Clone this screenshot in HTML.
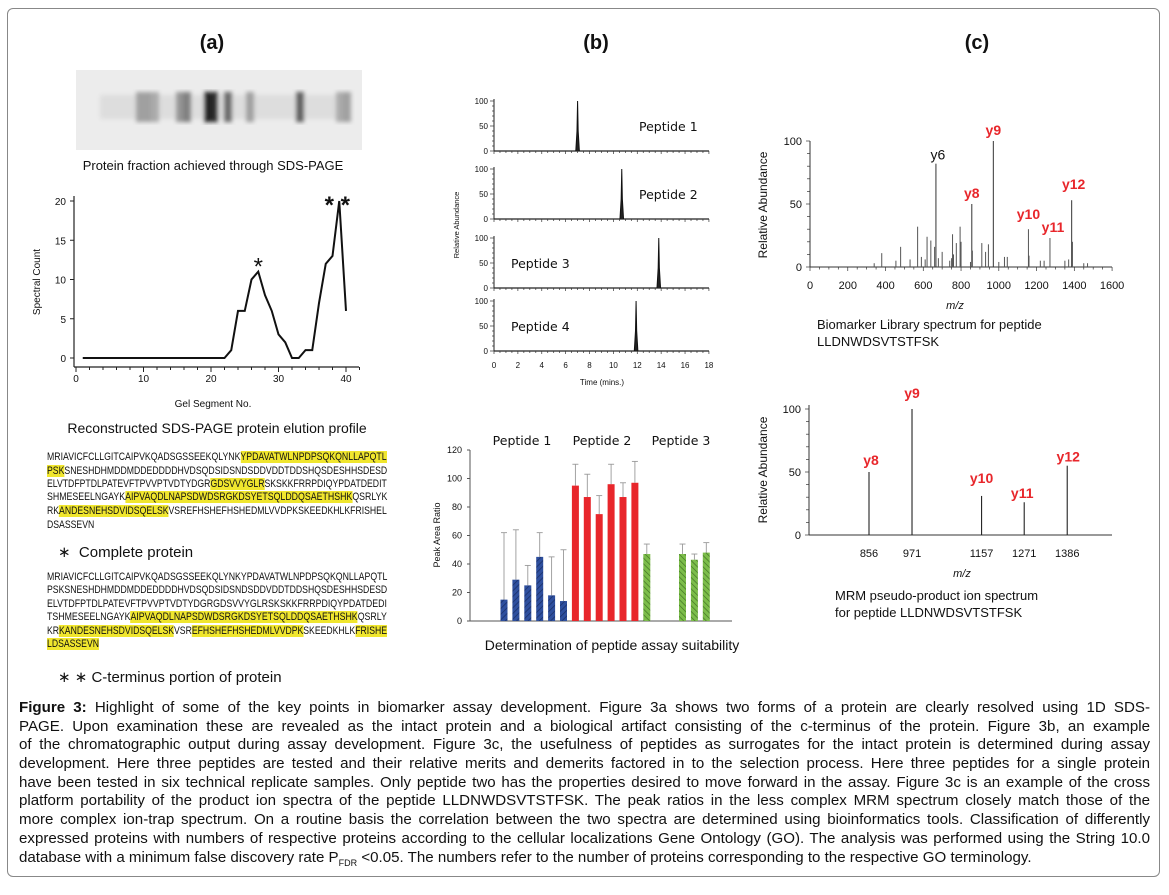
<!DOCTYPE html>
<html><head><meta charset="utf-8"><style>
body{margin:0;background:#fff;}
#root{position:relative;width:1169px;height:895px;overflow:hidden;background:#fff;font-family:"Liberation Sans",Arial,sans-serif;}
.frame{position:absolute;left:7px;top:8px;width:1153px;height:869px;border:1px solid #888;border-radius:6px;box-sizing:border-box;}
.seq{position:absolute;left:47px;font-size:11px;line-height:13px;white-space:nowrap;transform-origin:0 50%;color:#111;}
.hl{background:#f0e62e;}
.cap{position:absolute;left:19px;top:699px;width:1131px;font-size:15.1px;line-height:18.7px;color:#111;}
.cl{text-align:justify;text-align-last:justify;white-space:nowrap;height:18.7px;}
.lbl{position:absolute;font-size:14px;color:#111;white-space:nowrap;}
</style></head><body>
<div id="root">
<div class="frame"></div>
<svg id="svg" width="1169" height="895" style="position:absolute;left:0;top:0">
<defs>
<pattern id="hb" width="4" height="4" patternUnits="userSpaceOnUse" patternTransform="rotate(45)"><rect width="4" height="4" fill="#2e4f9e"/><line x1="0" y1="0" x2="0" y2="4" stroke="#1a2f66" stroke-width="1.5"/></pattern>
<pattern id="hg" width="4" height="4" patternUnits="userSpaceOnUse" patternTransform="rotate(-45)"><rect width="4" height="4" fill="#7cbd4a"/><line x1="0" y1="0" x2="0" y2="4" stroke="#3d6e22" stroke-width="1.3"/></pattern>
<filter id="blur"><feGaussianBlur stdDeviation="2.2"/></filter>
</defs>
<g font-family="Liberation Sans, Arial, sans-serif" font-weight="bold" font-size="20" text-anchor="middle" fill="#111">
<text x="212" y="49">(a)</text>
<text x="596" y="49">(b)</text>
<text x="977" y="49">(c)</text>
</g>
<g id="gel">
<rect x="76" y="70" width="286" height="80" fill="#ececec"/>
<g filter="url(#blur)" id="gelbands"></g>
</g>
<text x="213" y="170" font-size="13" text-anchor="middle" font-family="Liberation Sans, DejaVu Sans, sans-serif" fill="#111">Protein fraction achieved through SDS-PAGE</text>
<g id="chartA"></g>
<text x="217" y="433" font-size="14" text-anchor="middle" fill="#111">Reconstructed SDS-PAGE protein elution profile</text>
<g id="chartB"></g>
<g id="chartBar"></g>
<text x="612" y="650" font-size="14" text-anchor="middle" fill="#111">Determination of peptide assay suitability</text>
<g id="chartC1"></g>
<text x="817" y="329" font-size="13" fill="#111">Biomarker Library spectrum for peptide</text>
<text x="817" y="346" font-size="13" fill="#111">LLDNWDSVTSTFSK</text>
<g id="chartC2"></g>
<text x="835" y="600" font-size="13" fill="#111">MRM  pseudo-product ion spectrum</text>
<text x="835" y="617" font-size="13" fill="#111">for peptide LLDNWDSVTSTFSK</text>
</svg>

<div class="seq" style="top:451px">MRIAVICFCLLGITCAIPVKQADSGSSEEKQLYNK<span class="hl">YPDAVATWLNPDPSQKQNLLAPQTL</span></div>
<div class="seq" style="top:465px"><span class="hl">PSK</span>SNESHDHMDDMDDEDDDDHVDSQDSIDSNDSDDVDDTDDSHQSDESHHSDESD</div>
<div class="seq" style="top:478px">ELVTDFPTDLPATEVFTPVVPTVDTYDGR<span class="hl">GDSVVYGLR</span>SKSKKFRRPDIQYPDATDEDIT</div>
<div class="seq" style="top:491px">SHMESEELNGAYK<span class="hl">AIPVAQDLNAPSDWDSRGKDSYETSQLDDQSAETHSHK</span>QSRLYK</div>
<div class="seq" style="top:505px">RK<span class="hl">ANDESNEHSDVIDSQELSK</span>VSREFHSHEFHSHEDMLVVDPKSKEEDKHLKFRISHEL</div>
<div class="seq last" style="top:519px">DSASSEVN</div>
<div class="lbl" style="left:58px;top:543px;font-size:15px">∗ &nbsp;Complete protein</div>

<div class="seq" style="top:571px">MRIAVICFCLLGITCAIPVKQADSGSSEEKQLYNKYPDAVATWLNPDPSQKQNLLAPQTL</div>
<div class="seq" style="top:584px">PSKSNESHDHMDDMDDEDDDDHVDSQDSIDSNDSDDVDDTDDSHQSDESHHSDESD</div>
<div class="seq" style="top:598px">ELVTDFPTDLPATEVFTPVVPTVDTYDGRGDSVVYGLRSKSKKFRRPDIQYPDATDEDI</div>
<div class="seq" style="top:611px">TSHMESEELNGAYK<span class="hl">AIPVAQDLNAPSDWDSRGKDSYETSQLDDQSAETHSHK</span>QSRLY</div>
<div class="seq" style="top:625px">KR<span class="hl">KANDESNEHSDVIDSQELSK</span>VSR<span class="hl">EFHSHEFHSHEDMLVVDPK</span>SKEEDKHLK<span class="hl">FRISHE</span></div>
<div class="seq last" style="top:638px"><span class="hl">LDSASSEVN</span></div>
<div class="lbl" style="left:58px;top:668px;font-size:15px">∗ ∗ C-terminus portion of protein</div>

<div class="cap">
<div class="cl"><b>Figure 3:</b> Highlight of some of the key points in biomarker assay development. Figure 3a shows two forms of a protein are clearly resolved using 1D SDS-</div>
<div class="cl">PAGE. Upon examination these are revealed as the intact protein and a biological artifact consisting of the c-terminus of the protein. Figure 3b, an example</div>
<div class="cl">of the chromatographic output during assay development. Figure 3c, the usefulness of peptides as surrogates for the intact protein is determined during assay</div>
<div class="cl">development. Here three peptides are tested and their relative merits and demerits factored in to the selection process. Here three peptides for a single protein</div>
<div class="cl">have been tested in six technical replicate samples. Only peptide two has the properties desired to move forward in the assay. Figure 3c is an example of the cross</div>
<div class="cl">platform portability of the product ion spectra of the peptide LLDNWDSVTSTFSK. The peak ratios in the less complex MRM spectrum closely match those of the</div>
<div class="cl">more complex ion-trap spectrum. On a routine basis the correlation between the two spectra are determined using bioinformatics tools. Classification of differently</div>
<div class="cl">expressed proteins with numbers of respective proteins according to the cellular localizations Gene Ontology (GO). The analysis was performed using the String 10.0</div>
<div style="white-space:nowrap">database with a minimum false discovery rate P<sub style="font-size:9px">FDR</sub> &lt;0.05. The numbers refer to the number of proteins corresponding to the respective GO terminology.</div>
</div>
</div>
<script>
// ---- data ----
const gelBandX = [140,147,155,180,187,208,214,228,250,300,340,347];
const gelBandDark = [0.35,0.35,0.3,0.4,0.5,0.95,0.9,0.6,0.35,0.65,0.3,0.35];
const segments = [1,2,3,4,5,6,7,8,9,10,11,12,13,14,15,16,17,18,19,20,21,22,23,24,25,26,27,28,29,30,31,32,33,34,35,36,37,38,39,40];
const spectralCounts = [0,0,0,0,0,0,0,0,0,0,0,0,0,0,0,0,0,0,0,0,0,0,1,6,6,10,11,8,6,3,2,0,0,1,1,7,12,13,20,6];
const segTicks = [0,10,20,30,40];
const countTicks = [0,5,10,15,20];
const peptideNames = ["Peptide 1","Peptide 2","Peptide 3","Peptide 4"];
const retentionTimes = [7.0,10.7,13.8,11.9];
const timeTicks = [0,2,4,6,8,10,12,14,16,18];
const abundTicks = [0,50,100];
const barValues = [15,29,25,45,18,14,95,87,75,96,87,97,47,null,null,47,43,48];
const barErrTop = [62,64,39,62,45,50,110,103,88,110,97,112,54,null,null,54,47,55];
const barGroup = [0,0,0,0,0,0,1,1,1,1,1,1,2,2,2,2,2,2];
const ratioTicks = [0,20,40,60,80,100,120];
const libMz = [340,380,455,480,530,570,590,610,620,640,660,667,680,700,740,750,755,760,775,795,800,850,857,860,910,930,945,971,1000,1030,1045,1157,1160,1220,1240,1271,1350,1370,1386,1390,1450,1470];
const libInt = [3,11,5,16,6,32,8,6,24,21,16,82,7,12,5,7,26,10,19,32,20,4,50,13,19,12,18,100,4,8,8,30,9,5,5,23,5,6,53,20,3,3];
const libLabels = ["y6","y9","y8","y10","y11","y12"];
const libLabelMz = [667,971,857,1157,1271,1386];
const libLabelInt = [82,100,50,30,23,53];
const mzTicks = [0,200,400,600,800,1000,1200,1400,1600];
const mrmMz = [856,971,1157,1271,1386];
const mrmInt = [50,100,31,26,55];
const mrmLabels = ["y8","y9","y10","y11","y12"];

const NS="http://www.w3.org/2000/svg";
function mk(parent,tag,attrs){const e=document.createElementNS(NS,tag);for(const k in attrs)e.setAttribute(k,attrs[k]);parent.appendChild(e);return e;}
function txt(parent,x,y,s,size,anchor,extra){const t=mk(parent,'text',Object.assign({x:x,y:y,'font-size':size,'text-anchor':anchor||'start',fill:'#111'},extra||{}));t.textContent=s;return t;}

// gel
const gb=document.getElementById('gelbands');
mk(gb,'rect',{x:100,y:95,width:250,height:24,fill:'#d4d4d4',opacity:0.6});
gelBandX.forEach((x,i)=>{const g=Math.round(235-gelBandDark[i]*215);
 const r=mk(gb,'rect',{x:x-4,y:92,width:8,height:30,fill:`rgb(${g},${g},${g})`});
 
 });

// chart A
(function(){
const g=document.getElementById('chartA');
const X=v=>76+v*6.75, Y=v=>358-v*7.85;
mk(g,'line',{x1:74,y1:196,x2:74,y2:367,stroke:'#222','stroke-width':1.2});
mk(g,'line',{x1:74,y1:367,x2:359,y2:367,stroke:'#222','stroke-width':1.2});
countTicks.forEach(v=>{mk(g,'line',{x1:70,y1:Y(v),x2:74,y2:Y(v),stroke:'#222'});
 const t=txt(g,66,Y(v)+4,String(v),10,'end');
 
 });
for(let v=0;v<=42;v+=2){mk(g,'line',{x1:X(v),y1:367,x2:X(v),y2:v%10==0?372:370,stroke:'#222'});}
segTicks.forEach(v=>{const t=txt(g,X(v),382,String(v),10,'middle');
 
 });
const p=mk(g,'polyline',{points:segments.map((s,i)=>X(s)+','+Y(spectralCounts[i])).join(' '),fill:'none',stroke:'#111','stroke-width':2});


const t1=txt(g,40,282,'Spectral Count',10,'middle',{transform:'rotate(-90 40 282)'});


const t2=txt(g,213,407,'Gel Segment No.',10,'middle');


const i1=spectralCounts.indexOf(11), i2=spectralCounts.indexOf(20);
const a1=txt(g,X(segments[i1]),Y(11)+3,'*',24,'middle');


const a2=txt(g,X(segments[i2])-2,Y(20)+12,'* *',24,'middle',{'font-weight':'bold'});


})();

// chart B chromatograms
(function(){
const g=document.getElementById('chartB');
const zeros=[151,219,288,351];
const X=t=>494+t*11.94;
const labelX=[639,639,511,511];
peptideNames.forEach((nm,k)=>{
 const z=zeros[k], Y=v=>z-v*0.5;
 mk(g,'line',{x1:494,y1:Y(100)-2,x2:494,y2:z,stroke:'#222'});
 mk(g,'line',{x1:494,y1:z,x2:709,y2:z,stroke:'#222','stroke-width':1.3});
 for(let v=0;v<=100;v+=10)mk(g,'line',{x1:v%50==0?490:492,y1:Y(v),x2:494,y2:Y(v),stroke:'#333','stroke-width':0.7});
 for(let t=0;t<=18;t+=0.5)mk(g,'line',{x1:X(t),y1:z,x2:X(t),y2:z+(t%2==0?3:2),stroke:'#333','stroke-width':0.7});
 abundTicks.forEach(v=>{const t=txt(g,488,Y(v)+3,String(v),8,'end');
  
  });
 const rt=retentionTimes[k];
 const pk=mk(g,'polyline',{points:[[rt-0.15,0],[rt-0.05,40],[rt,100],[rt+0.05,40],[rt+0.15,0]].map(a=>X(a[0])+','+Y(a[1])).join(' '),fill:'#222',stroke:'#111','stroke-width':1});
 
 
 const l=txt(g,labelX[k],z-20,nm,13.5,'start',{'font-family':'DejaVu Sans, Liberation Sans, sans-serif','font-size':12.5});
 
 
});
timeTicks.forEach(v=>{const t=txt(g,X(v),368,String(v),8,'middle');
 
 });
const ya=txt(g,459,225,'Relative Abundance',7.5,'middle',{transform:'rotate(-90 459 225)'});


const xa=txt(g,602,385,'Time (mins.)',8,'middle');


})();

// bar chart
(function(){
const g=document.getElementById('chartBar');
const Y=v=>621-v*1.425, X=i=>504+i*11.9;
const fills=['url(#hb)','#e8262b','url(#hg)'];
mk(g,'line',{x1:470,y1:Y(120),x2:470,y2:Y(0),stroke:'#555'});
mk(g,'line',{x1:470,y1:Y(0),x2:732,y2:Y(0),stroke:'#555'});
ratioTicks.forEach(v=>{mk(g,'line',{x1:467,y1:Y(v),x2:470,y2:Y(v),stroke:'#555'});
 const t=txt(g,462,Y(v)+3,String(v),9,'end');
 
 });
barValues.forEach((v,i)=>{if(v==null)return;
 const e=barErrTop[i];
 mk(g,'line',{x1:X(i),y1:Y(e),x2:X(i),y2:Y(v),stroke:'#999','stroke-width':0.9});
 mk(g,'line',{x1:X(i)-3,y1:Y(e),x2:X(i)+3,y2:Y(e),stroke:'#999','stroke-width':0.9});
 const r=mk(g,'rect',{x:X(i)-3.5,y:Y(v),width:7,height:Y(0)-Y(v),fill:fills[barGroup[i]]});
 
 
});
['Peptide 1','Peptide 2','Peptide 3'].forEach((nm,k)=>{const t=txt(g,[522,602,681][k],445,nm,13.5,'middle',{'font-family':'DejaVu Sans, Liberation Sans, sans-serif','font-size':12.5});
 
 });
const ya=txt(g,440,535,'Peak Area Ratio',9,'middle',{transform:'rotate(-90 440 535)'});


})();

// spectrum C1
(function(){
const g=document.getElementById('chartC1');
const X=m=>810+m*0.1888, Y=v=>267-v*1.26;
const ldx=[2,0,0,0,3,2], ldy=[-4,-6,-6,-10,-6,-11];
mk(g,'line',{x1:810,y1:Y(100),x2:810,y2:Y(0),stroke:'#333'});
mk(g,'line',{x1:810,y1:Y(0),x2:1112,y2:Y(0),stroke:'#333'});
for(let v=0;v<=100;v+=10)mk(g,'line',{x1:v%50==0?806:807,y1:Y(v),x2:810,y2:Y(v),stroke:'#333','stroke-width':0.7});
for(let m=0;m<=1600;m+=50)mk(g,'line',{x1:X(m),y1:Y(0),x2:X(m),y2:Y(0)+(m%200==0?4:2.5),stroke:'#333','stroke-width':0.7});
abundTicks.forEach(v=>{const t=txt(g,802,Y(v)+4,String(v),11,'end');
 
 });
mzTicks.forEach(v=>{const t=txt(g,X(v),289,String(v),11,'middle');
 
 });
libMz.forEach((m,i)=>{const l=mk(g,'line',{x1:X(m),y1:Y(0),x2:X(m),y2:Y(libInt[i]),stroke:libInt[i]>45?'#333':'#555','stroke-width':1});
 
 });
libLabels.forEach((s,i)=>{const t=txt(g,X(libLabelMz[i])+ldx[i],Y(libLabelInt[i])+ldy[i],s,14,'middle',{fill:i==0?'#111':'#e8262b','font-weight':i==0?'normal':'bold'});
 
 });
const ya=txt(g,767,205,'Relative Abundance',12,'middle',{transform:'rotate(-90 767 205)'});


const xa=txt(g,955,309,'m/z',11,'middle',{'font-style':'italic'});


})();

// spectrum C2
(function(){
const g=document.getElementById('chartC2');
const X=m=>869+(m-856)*0.374, Y=v=>535-v*1.26;
const ldx=[2,0,0,-2,1], ldy=[-7,-11,-13,-4,-4];
mk(g,'line',{x1:809,y1:Y(100)-4,x2:809,y2:Y(0),stroke:'#333'});
mk(g,'line',{x1:809,y1:Y(0),x2:1112,y2:Y(0),stroke:'#333'});
for(let v=0;v<=100;v+=10)mk(g,'line',{x1:v%50==0?805:806,y1:Y(v),x2:809,y2:Y(v),stroke:'#333','stroke-width':0.7});
abundTicks.forEach(v=>{const t=txt(g,801,Y(v)+4,String(v),11,'end');
 
 });
mrmMz.forEach((m,i)=>{
 const l=mk(g,'line',{x1:X(m),y1:Y(0),x2:X(m),y2:Y(mrmInt[i]),stroke:'#222','stroke-width':1.1});
 
 
 const t=txt(g,X(m),557,String(m),11,'middle');
 
 
 const s=txt(g,X(m)+ldx[i],Y(mrmInt[i])+ldy[i],mrmLabels[i],14,'middle',{fill:'#e8262b','font-weight':'bold'});
 
 
});
const ya=txt(g,767,470,'Relative Abundance',12,'middle',{transform:'rotate(-90 767 470)'});


const xa=txt(g,962,577,'m/z',11,'middle',{'font-style':'italic'});


})();

// fit sequence lines
(function(){
const lines=[...document.querySelectorAll('.seq')];
let last=0.8;
lines.forEach(el=>{
 if(el.classList.contains('last')){el.style.transform='scaleX('+last+')';return;}
 const w=el.scrollWidth; last=340/w; el.style.transform='scaleX('+last+')';
});
})();
</script>
</body></html>
